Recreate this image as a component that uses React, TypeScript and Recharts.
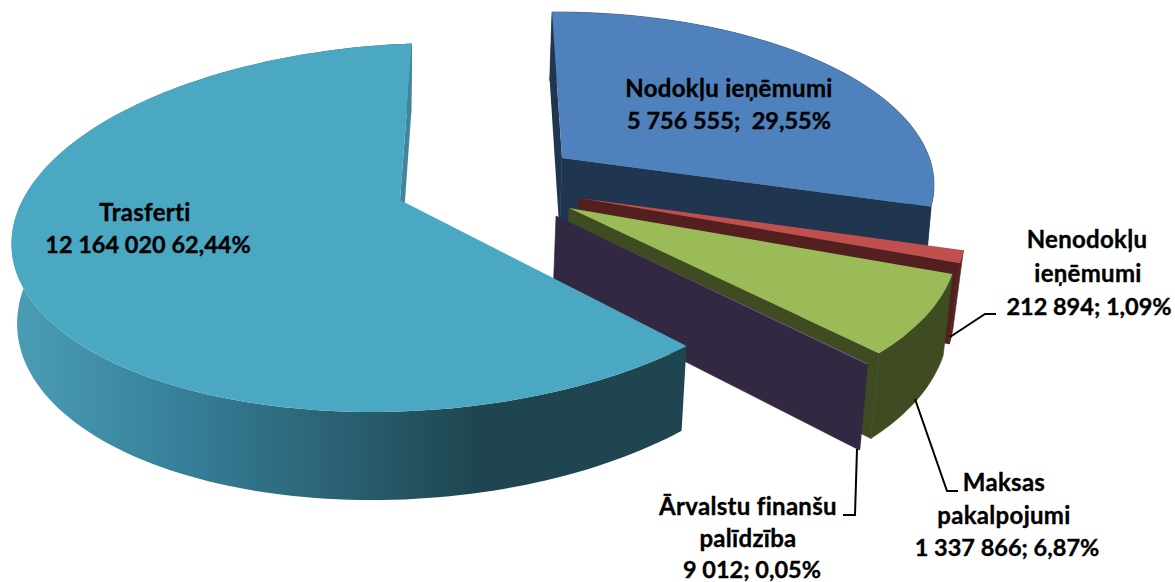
import React from "react";
import { PieChart, Pie } from "recharts";

const categories = ["Nodokļu ieņēmumi", "Nenodokļu ieņēmumi", "Maksas pakalpojumi", "Ārvalstu finanšu palīdzība", "Trasferti"];
const seriesValues = [5756555, 212894, 1337866, 9012, 12164020];
const labelLines = [
  ["Nodokļu ieņēmumi", "5 756 555;  29,55%"],
  ["Nenodokļu", "ieņēmumi", "212 894; 1,09%"],
  ["Maksas", "pakalpojumi", "1 337 866; 6,87%"],
  ["Ārvalstu finanšu", "palīdzība", "9 012; 0,05%"],
  ["Trasferti", "12 164 020 62,44%"],
];
const topColors = ["#4F81BD", "#C0504D", "#9BBB59", "#8064A2", "#4AA8C3"];
const wallColors = ["#1F3550", "#54201F", "#3F4C22", "#332841", "url(#tealWall)"];
const cutColors = ["#1F3550", "#54201F", "#3F4C22", "#332841", "#40859E"];

// projected disc of each exploded slice: apex, rim ellipse, pencil of radii
const discs = [
  { ax: 562, ay: 158, ex: 555, ey: 185, rx: 379, ry: 173, s: 0, q: 0.453, c: -0.031, k: 0.0125, startCut: true },
  { ax: 579, ay: 198, ex: 572.5, ey: 225, rx: 392, ry: 184.5, s: 19, q: 0.46, c: 0.011, k: 0.018, startCut: false },
  { ax: 569, ay: 208, ex: 565, ey: 235.5, rx: 392, ry: 184.5, s: 19, q: 0.463, c: 0.011, k: 0.0157, startCut: false },
  { ax: 556, ay: 216, ex: 558, ey: 243.5, rx: 392, ry: 184.5, s: 19, q: 0.468, c: 0.011, k: 0.0157, startCut: false },
  { ax: 400, ay: 200, ex: 407, ey: 227.5, rx: 394, ry: 184.5, s: -35, q: 0.487, c: 0.037, k: 0.0157, startCut: false },
];
const labelAnchors = [
  { x: [729, 729], y: [97, 129] },
  { x: [1087, 1088, 1089], y: [248, 282, 315] },
  { x: [1004, 1004, 1007], y: [491, 524, 556] },
  { x: [748, 748, 752], y: [515, 547, 578] },
  { x: [145, 148], y: [221, 253] },
];
const leaders = ["", "950,337 985,314 996,314", "915,399 947,491 958,491", "857,449 855,515 843,515", ""];

const FONT = "Lato, sans-serif";
const data = categories.map((name, i) => ({ name, value: seriesValues[i] }));

type Pt = [number, number];
const toPath = (pts: Pt[]) => "M" + pts.map((p) => p[0].toFixed(1) + " " + p[1].toFixed(1)).join("L") + "Z";

function rim(d: (typeof discs)[number], deg: number): Pt {
  const a = (deg * Math.PI) / 180;
  const dx = Math.sin(a) + d.c * Math.cos(a);
  const dy = -d.q * Math.cos(a);
  const pY = (d.ay - d.ey) / d.ry;
  const pX = (d.ax - d.ex - d.s * pY) / d.rx;
  const dY = dy / d.ry;
  const dX = (dx - d.s * dY) / d.rx;
  const A = dX * dX + dY * dY;
  const B = 2 * (pX * dX + pY * dY);
  const C = pX * pX + pY * pY - 1;
  const r = (-B + Math.sqrt(B * B - 4 * A * C)) / (2 * A);
  return [d.ax + r * dx, d.ay + r * dy];
}

function drop(d: (typeof discs)[number], p: Pt): Pt {
  return [p[0] - (p[0] - 370) * d.k, p[1] + 70 + (p[1] - 43) * 0.049];
}

function Slice(props: any) {
  const i = categories.indexOf(props.name);
  const d = discs[i];
  const a0 = 90 - props.startAngle;
  const a1 = 90 - props.endAngle;
  const steps = Math.max(2, Math.ceil((a1 - a0) / 1.5));
  const arc: Pt[] = [];
  for (let n = 0; n <= steps; n++) arc.push(rim(d, a0 + ((a1 - a0) * n) / steps));
  const apex: Pt = [d.ax, d.ay];
  const first = arc[0];
  const last = arc[arc.length - 1];
  const wall = [...arc, ...arc.map((p) => drop(d, p)).reverse()];
  const seam = i === 4 ? undefined : cutColors[i];
  return (
    <g>
      {i === 4 && (
        <defs>
          <linearGradient id="tealWall" gradientUnits="userSpaceOnUse" x1="15" y1="0" x2="480" y2="0">
            <stop offset="0" stopColor="#4A9DB5" />
            <stop offset="0.35" stopColor="#37809A" />
            <stop offset="0.7" stopColor="#2A6172" />
            <stop offset="1" stopColor="#1E4550" />
          </linearGradient>
        </defs>
      )}
      <path d={toPath(wall)} fill={wallColors[i]} stroke={seam} strokeWidth={seam ? 0.6 : 0} />
      {d.startCut && <path d={toPath([apex, first, drop(d, first), drop(d, apex)])} fill={cutColors[i]} />}
      <path d={toPath([apex, last, drop(d, last), drop(d, apex)])} fill={cutColors[i]} stroke={seam} strokeWidth={seam ? 0.6 : 0} />
      <path d={toPath([apex, ...arc])} fill={topColors[i]} />
    </g>
  );
}

function SliceLabel(props: any) {
  const i = props.index;
  const at = labelAnchors[i];
  const isLast = (n: number) => n === labelLines[i].length - 1;
  return (
    <g>
      {leaders[i] && <polyline points={leaders[i]} fill="none" stroke="#000" strokeWidth={2} />}
      {labelLines[i].map((line, n) => (
        <text key={n} x={at.x[n]} y={at.y[n]} textAnchor="middle" fontFamily={FONT} fontWeight={700}
          fontSize={isLast(n) ? 23.5 : 24} letterSpacing={isLast(n) ? 0 : 0.3} stroke="#000" strokeWidth={0.35} fill="#000" style={{ whiteSpace: "pre" }}>
          {line}
        </text>
      ))}
    </g>
  );
}

export default function App() {
  return (
    <div style={{ position: "absolute", left: 0, top: 0, width: 1175, height: 582, background: "#fff" }}>
      <PieChart width={1175} height={582} margin={{ top: 0, right: 0, bottom: 0, left: 0 }}>
        <Pie data={data} dataKey="value" nameKey="name" cx={560} cy={260} outerRadius={200} startAngle={90} endAngle={-270}
          stroke="none" isAnimationActive={false} shape={Slice} inactiveShape={Slice} activeShape={Slice} label={SliceLabel} labelLine={false} />
      </PieChart>
    </div>
  );
}
